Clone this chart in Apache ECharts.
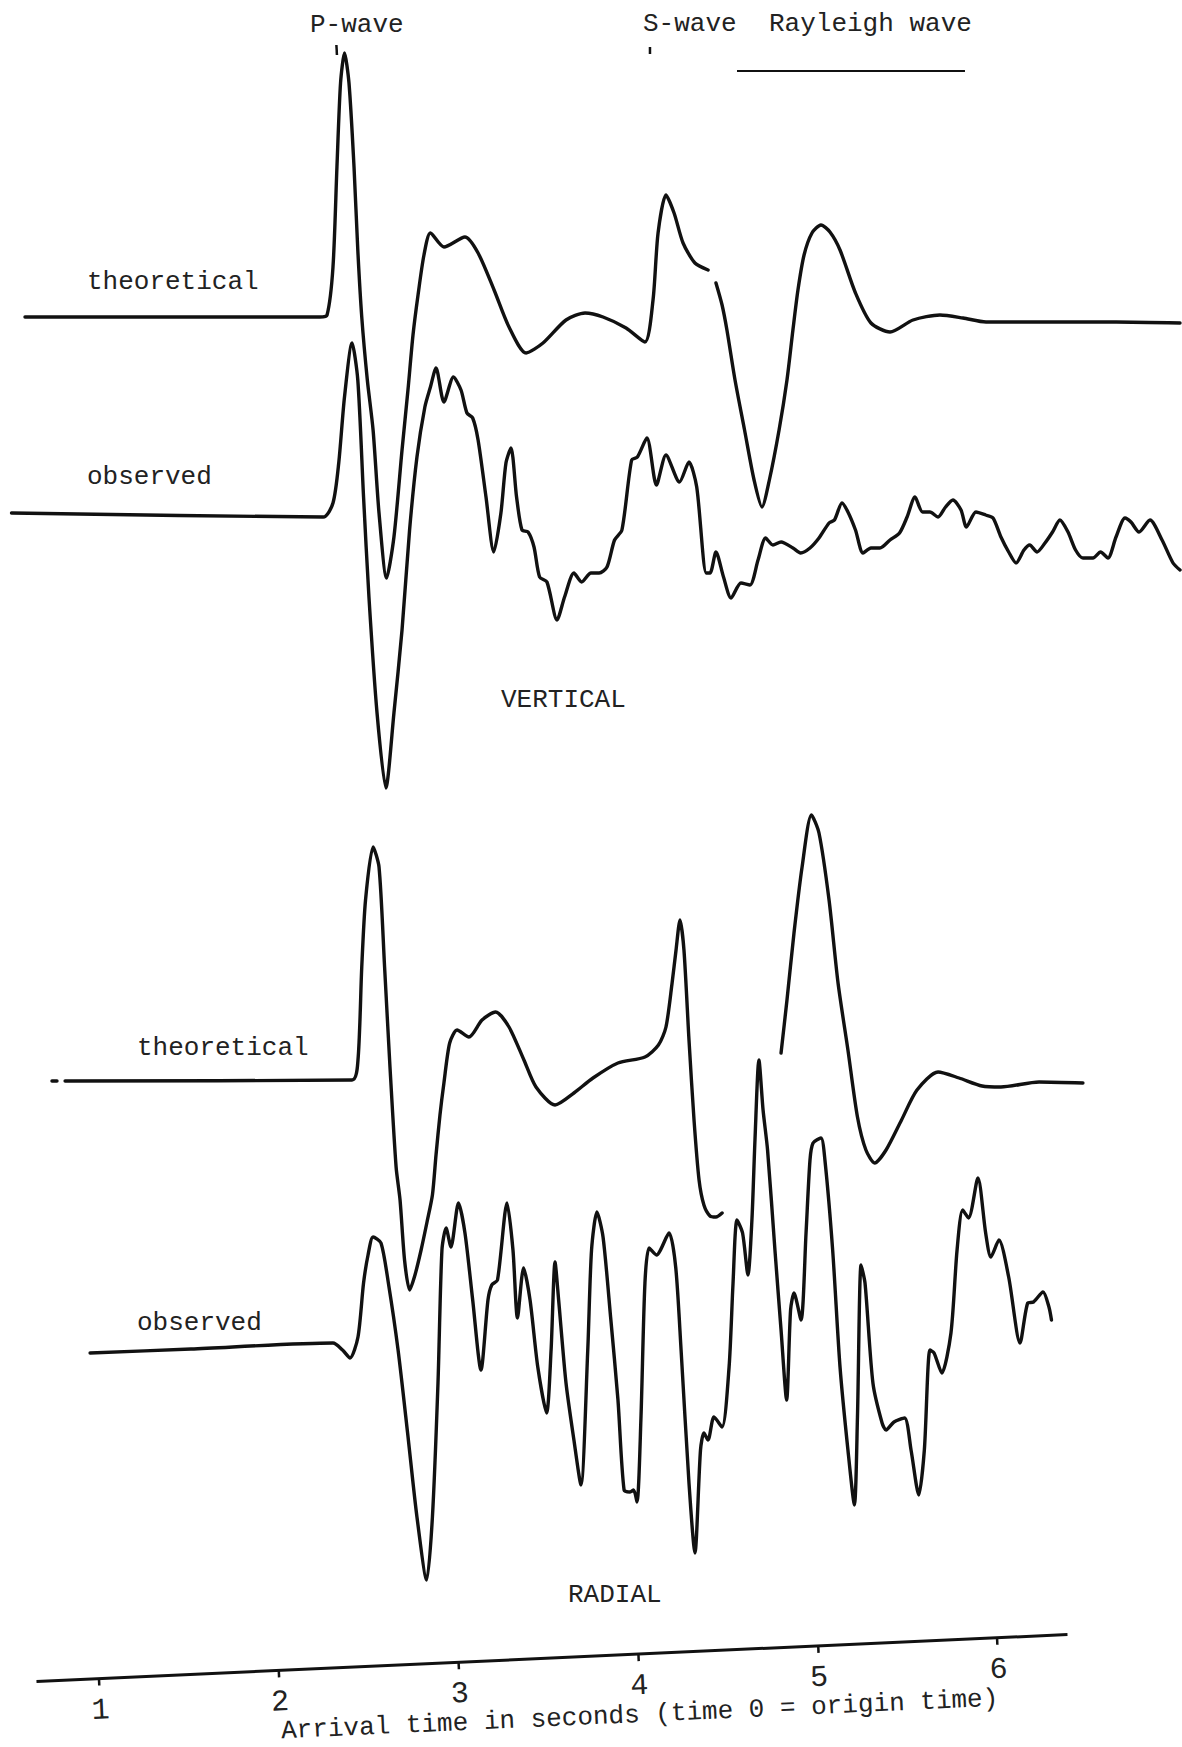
<!DOCTYPE html>
<html>
<head>
<meta charset="utf-8">
<script src="https://cdn.jsdelivr.net/npm/echarts@6/dist/echarts.min.js"></script>
<style>
html,body{margin:0;padding:0;background:#fff;}
#wrap{position:relative;width:1182px;height:1747px;overflow:hidden;background:#fff;}
#main{position:absolute;left:0;top:0;width:1182px;height:1747px;}
#axis{position:absolute;left:0;top:1558px;width:1182px;height:200px;transform-origin:552px 100px;transform:rotate(-2.6deg);}
</style>
</head>
<body>
<div id="wrap"><div id="main"></div><div id="axis"></div></div>
<script>
// ---------------- DATA (time in seconds, amplitude in trace units) ----------------
const theoreticalVertical = [
[0.590,0],[2.231,0],[2.270,0.2],[2.303,5.0],[2.325,15.0],[2.345,23.4],[2.367,26.4],[2.392,23.4],[2.420,15.0],[2.441,6.7],
[2.463,0],[2.494,-6.3],[2.526,-11.3],[2.559,-19.6],[2.601,-26.1],[2.642,-22.0],[2.687,-13.3],[2.720,-7.3],[2.748,-1.8],[2.776,2.2],
[2.809,6.2],[2.845,8.4],[2.920,7.0],[3.037,8.0],[3.110,6.4],[3.199,2.7],[3.282,-1.0],[3.377,-3.6],[3.471,-2.6],[3.599,-0.3],
[3.705,0.4],[3.805,0],[3.933,-1.1],[4.038,-2.5],[4.083,1.7],[4.111,8.4],[4.155,12.2],[4.200,10.4],[4.250,7.4],[4.316,5.4],
[4.389,4.7],[4.411,null],[4.433,3.4],[4.467,1.2],[4.494,-1.3],[4.539,-6.3],[4.592,-11.3],[4.645,-16.3],[4.689,-19.0],[4.730,-16.3],
[4.784,-11.3],[4.828,-6.3],[4.861,-1.3],[4.889,2.7],[4.923,6.2],[4.967,8.4],[5.017,9.2],[5.067,8.5],[5.123,6.7],[5.209,2.4],
[5.295,-0.6],[5.401,-1.5],[5.529,-0.3],[5.679,0.2],[5.807,-0.1],[5.935,-0.5],[6.230,-0.5],[6.658,-0.5],[7.014,-0.6]
];
const observedVertical = [
[0.515,0.2],[2.248,-0.2],[2.303,1.2],[2.335,5.2],[2.367,11.8],[2.409,17.2],[2.441,13.5],[2.473,1.8],[2.503,-8.2],[2.548,-19.8],
[2.597,-27.3],[2.642,-19.8],[2.687,-11.5],[2.729,-1.5],[2.770,5.8],[2.814,10.8],[2.845,12.8],[2.876,14.7],[2.920,11.3],[2.973,13.8],
[3.015,12.5],[3.048,10.2],[3.080,9.7],[3.110,7.5],[3.154,1.8],[3.197,-3.7],[3.237,0.2],[3.265,5.2],[3.293,6.7],[3.324,1.8],
[3.354,-1.5],[3.388,-1.7],[3.421,-3.2],[3.452,-6.2],[3.493,-6.7],[3.549,-10.5],[3.591,-8.2],[3.643,-5.8],[3.686,-6.7],[3.738,-5.8],
[3.783,-5.8],[3.827,-5.2],[3.869,-2.5],[3.910,-1.5],[3.964,5.5],[3.996,5.8],[4.049,7.7],[4.102,3.0],[4.155,6.0],[4.230,3.3],
[4.283,5.3],[4.326,2.8],[4.379,-5.8],[4.400,-5.8],[4.433,-3.7],[4.475,-6.2],[4.517,-8.3],[4.572,-6.8],[4.622,-7.0],[4.667,-4.5],
[4.709,-2.3],[4.750,-3.0],[4.795,-2.7],[4.861,-3.3],[4.904,-3.8],[4.956,-3.3],[5.006,-2.3],[5.062,-0.8],[5.092,-0.5],[5.134,1.2],
[5.167,0.3],[5.209,-1.5],[5.251,-3.8],[5.295,-3.3],[5.345,-3.3],[5.401,-2.5],[5.454,-1.8],[5.496,-0.2],[5.540,1.8],[5.582,0.3],
[5.623,0.3],[5.668,-0.2],[5.710,0.8],[5.751,1.5],[5.796,0.5],[5.826,-1.2],[5.879,0.3],[5.933,0],[5.974,-0.3],[6.018,-2.2],
[6.061,-3.7],[6.102,-4.8],[6.146,-3.5],[6.178,-3.0],[6.219,-3.7],[6.263,-2.8],[6.305,-1.7],[6.346,-0.5],[6.391,-1.7],[6.433,-3.5],
[6.474,-4.3],[6.530,-4.3],[6.572,-3.7],[6.613,-4.3],[6.658,-2.2],[6.708,-0.3],[6.741,-0.7],[6.786,-1.7],[6.847,-0.5],[6.914,-2.5],
[6.975,-4.8],[7.014,-5.5]
];
const theoreticalRadial = [
[0.740,0],[0.768,0],[0.790,null],[0.813,0],[2.409,0.1],[2.442,2.1],[2.463,11.4],[2.484,18.1],[2.526,23.4],[2.559,21.4],
[2.590,11.4],[2.620,1.4],[2.654,-8.6],[2.676,-11.9],[2.701,-17.9],[2.729,-20.9],[2.759,-19.4],[2.793,-16.9],[2.826,-14.1],[2.856,-11.4],
[2.876,-7.4],[2.898,-3.4],[2.920,-0.2],[2.952,3.8],[2.993,5.1],[3.059,4.4],[3.132,6.1],[3.207,6.9],[3.282,5.4],[3.365,2.1],
[3.432,-0.6],[3.538,-2.4],[3.643,-1.2],[3.749,0.3],[3.888,1.8],[4.038,2.4],[4.113,3.6],[4.155,5.4],[4.189,9.8],[4.211,13.1],
[4.233,16.1],[4.255,13.1],[4.283,4.1],[4.311,-3.9],[4.339,-9.9],[4.366,-12.4],[4.400,-13.5],[4.433,-13.6],[4.467,-13.2],[4.600,null],
[4.795,2.8],[4.828,8.1],[4.867,14.8],[4.912,21.4],[4.964,26.6],[5.006,24.8],[5.062,18.1],[5.112,9.8],[5.167,3.1],[5.220,-3.6],
[5.267,-6.9],[5.316,-8.2],[5.379,-6.9],[5.465,-3.9],[5.551,-0.9],[5.668,0.9],[5.785,0.3],[5.913,-0.5],[6.018,-0.6],[6.230,-0.1],
[6.474,-0.2]
];
const observedRadial = [
[0.952,-0.3],[1.513,0.1],[2.303,0.7],[2.356,0],[2.398,-0.8],[2.442,1.3],[2.473,6.7],[2.498,9.5],[2.526,11.3],[2.570,10.7],
[2.611,6.7],[2.665,0],[2.718,-8.3],[2.770,-16.7],[2.824,-23.0],[2.856,-16.7],[2.887,-3.3],[2.909,10.0],[2.932,12.2],[2.959,10.3],
[3.001,14.7],[3.037,11.7],[3.080,5.0],[3.126,-2.0],[3.165,5.0],[3.186,6.5],[3.218,7.0],[3.271,14.7],[3.304,10.0],[3.329,3.2],
[3.363,8.2],[3.399,5.0],[3.442,-1.7],[3.491,-6.3],[3.516,0],[3.538,8.8],[3.558,5.0],[3.599,-3.3],[3.643,-9.0],[3.682,-13.5],
[3.720,0],[3.741,10.0],[3.771,13.8],[3.805,11.3],[3.847,3.3],[3.888,-5.0],[3.922,-14.0],[3.955,-14.2],[3.975,-14.0],[3.994,-15.2],
[4.016,-6.7],[4.038,6.7],[4.061,10.2],[4.102,9.5],[4.172,11.7],[4.209,8.3],[4.239,0],[4.283,-13.3],[4.316,-20.3],[4.347,-10.0],
[4.366,-8.3],[4.389,-9.0],[4.422,-6.7],[4.467,-7.7],[4.506,-1.7],[4.528,6.7],[4.550,13.0],[4.581,11.7],[4.611,7.5],[4.633,13.0],
[4.650,21.0],[4.672,29.0],[4.695,24.0],[4.720,20.0],[4.761,10.0],[4.795,2.0],[4.826,-5.0],[4.848,4.0],[4.867,5.7],[4.906,3.0],
[4.934,11.7],[4.956,19.0],[4.973,20.7],[5.017,21.2],[5.039,19.0],[5.082,10.0],[5.123,-1.7],[5.167,-10.0],[5.203,-15.5],[5.220,-6.7],
[5.240,8.5],[5.262,6.7],[5.306,-3.3],[5.357,-7.3],[5.379,-8.0],[5.423,-7.2],[5.482,-6.8],[5.518,-10.0],[5.561,-14.5],[5.592,-10.0],
[5.623,0],[5.646,-0.3],[5.689,-2.3],[5.740,1.7],[5.774,10.0],[5.805,14.0],[5.838,13.2],[5.890,17.2],[5.933,11.7],[5.962,9.3],
[6.007,11.0],[6.061,7.3],[6.124,0.7],[6.167,4.7],[6.199,4.8],[6.252,5.8],[6.285,4.3],[6.299,3.0]
];
// trace baselines (offsets on the common amplitude scale)
const theoreticalVerticalBase = -31.7;
const observedVerticalBase = -51.5;
const theoreticalRadialBase = -108.1;
const observedRadialBase = -135.0;
// wave annotations
const pArrival = 2.325;
const sArrival = 4.066;
const rayleighSpan = [4.550, 5.818];
const rayleighLevel = -7.1;
// axis
const tickValues = [1, 2, 3, 4, 5, 6];
const axisSpan = [0.651, 6.391];
const axisTitle = 'Arrival time in seconds (time 0 = origin time)';

// ---------------- CHART ----------------
const FONT = '"Liberation Mono", "DejaVu Sans Mono", monospace';
const INK = '#111';
const T_MIN = 0.451, T_MAX = 7.025;

function shift(pairs, base) {
  return pairs.map(p => p[1] === null ? [p[0], '-'] : [p[0], base + p[1]]);
}
function trace(name, pairs, base) {
  return {
    name: name, type: 'line', data: shift(pairs, base), symbol: 'none', smooth: 0.25,
    connectNulls: false, clip: false, silent: true,
    lineStyle: { color: INK, width: 3.4, cap: 'round', join: 'round' }
  };
}
function seg(data, w) {
  return { type: 'line', data: data, symbol: 'none', clip: false, silent: true,
    lineStyle: { color: INK, width: w } };
}
function label(text, x, y) {
  return { type: 'text', x: x, y: y, silent: true,
    style: { text: text, fontFamily: FONT, fontSize: 26, fill: '#222', align: 'left', verticalAlign: 'middle' } };
}

const main = echarts.init(document.getElementById('main'), null, { renderer: 'svg', width: 1182, height: 1747 });
main.setOption({
  animation: false,
  backgroundColor: '#fff',
  grid: { left: 0, right: 0, top: 0, bottom: 0 },
  xAxis: { type: 'value', min: T_MIN, max: T_MAX, show: false },
  yAxis: { type: 'value', min: -174.7, max: 0, show: false },
  series: [
    trace('theoretical vertical', theoreticalVertical, theoreticalVerticalBase),
    trace('observed vertical', observedVertical, observedVerticalBase),
    trace('theoretical radial', theoreticalRadial, theoreticalRadialBase),
    trace('observed radial', observedRadial, observedRadialBase),
    seg([[rayleighSpan[0], rayleighLevel], [rayleighSpan[1], rayleighLevel]], 2),
    seg([[pArrival - 0.003, -4.5], [pArrival, -5.5]], 2.5),
    seg([[sArrival, -4.7], [sArrival, -5.4]], 2.5)
  ],
  graphic: [
    label('P-wave', 310, 25),
    label('S-wave', 643, 24),
    label('Rayleigh wave', 769, 24),
    label('theoretical', 87, 282),
    label('observed', 87, 477),
    label('VERTICAL', 501, 700),
    label('theoretical', 137, 1048),
    label('observed', 137, 1323),
    label('RADIAL', 568, 1595)
  ]
});

const axis = echarts.init(document.getElementById('axis'), null, { renderer: 'svg', width: 1182, height: 200 });
axis.setOption({
  animation: false,
  backgroundColor: 'transparent',
  grid: { left: 0, right: 0, top: 0, height: 100 },
  xAxis: {
    type: 'value', min: T_MIN, max: T_MAX,
    axisLine: { show: false },
    splitLine: { show: false },
    axisTick: { show: true, customValues: tickValues, length: 7, lineStyle: { color: INK, width: 2.5 } },
    axisLabel: { customValues: tickValues, fontFamily: FONT, fontSize: 30, color: '#222', margin: 17, formatter: v => String(v) },
    name: axisTitle, nameLocation: 'middle', nameGap: 44,
    nameTextStyle: { fontFamily: FONT, fontSize: 26, color: '#222', padding: [0, 0, 0, 92] }
  },
  yAxis: { type: 'value', min: 0, max: 1, show: false },
  series: [ seg([[axisSpan[0], 0], [axisSpan[1], 0]], 3) ]
});
</script>
</body>
</html>
